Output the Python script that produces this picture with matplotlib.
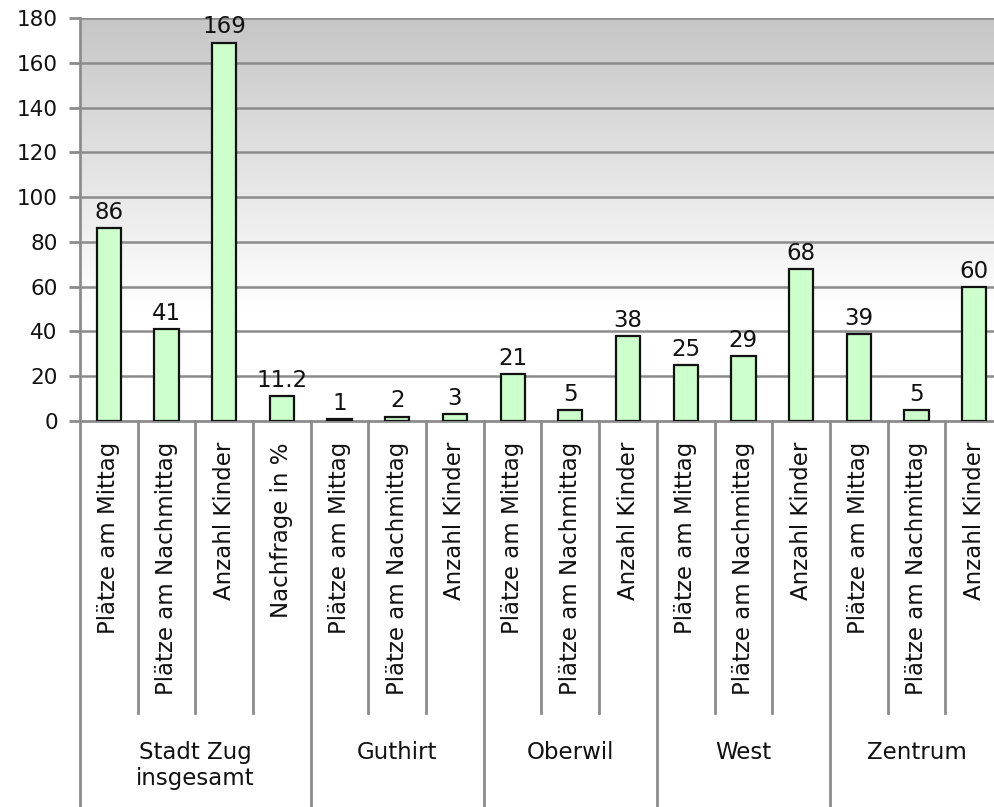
import numpy as np
import matplotlib
matplotlib.use("Agg")
import matplotlib.pyplot as plt
from matplotlib.colors import LinearSegmentedColormap

plt.rcParams['font.family'] = ['DejaVu Sans']

groups = ["Stadt Zug\ninsgesamt", "Guthirt", "Oberwil", "West", "Zentrum"]
group_items = [
    ["Plätze am Mittag", "Plätze am Nachmittag", "Anzahl Kinder", "Nachfrage in %"],
    ["Plätze am Mittag", "Plätze am Nachmittag", "Anzahl Kinder"],
    ["Plätze am Mittag", "Plätze am Nachmittag", "Anzahl Kinder"],
    ["Plätze am Mittag", "Plätze am Nachmittag", "Anzahl Kinder"],
    ["Plätze am Mittag", "Plätze am Nachmittag", "Anzahl Kinder"],
]
values = [86, 41, 169, 11.2,
          1, 2, 3,
          21, 5, 38,
          25, 29, 68,
          39, 5, 60]
value_labels = ["86", "41", "169", "11.2", "1", "2", "3", "21", "5", "38",
                "25", "29", "68", "39", "5", "60"]
yticks = [0, 20, 40, 60, 80, 100, 120, 140, 160, 180]

W, H = 995, 807
fig = plt.figure(figsize=(W / 100, H / 100), dpi=100)
x0, x1 = 80, 1003
ytop, ybot = 18, 421
ax = fig.add_axes([x0 / W, (H - ybot) / H, (x1 - x0) / W, (ybot - ytop) / H])

n = len(values)
xs = np.arange(n)
ax.set_xlim(-0.5, n - 0.5)
ax.set_ylim(0, 180)

# gradient background
grad = np.linspace(0, 1, 256).reshape(-1, 1)
cmap = LinearSegmentedColormap.from_list(
    "bg", [(0.0, "#ffffff"), (0.28, "#ffffff"), (1.0, "#c6c6c6")])
ax.imshow(grad, aspect="auto", cmap=cmap, origin="lower",
          extent=(-0.5, n - 0.5, 0, 180), zorder=0)

for y in yticks[1:]:
    ax.axhline(y, color="#8c8c8c", lw=1.8, zorder=1)

ax.bar(xs, values, width=0.42, color="#ccffcc", edgecolor="#111111",
       linewidth=1.6, zorder=3)
for x, v, lab in zip(xs, values, value_labels):
    ax.annotate(lab, (x, v), xytext=(0, 3), textcoords="offset points",
                ha="center", va="bottom", fontsize=16.5, color="#111111", zorder=4)

for s in ["top", "right"]:
    ax.spines[s].set_visible(False)
ax.spines["left"].set_color("#8c8c8c")
ax.spines["left"].set_linewidth(2)
ax.spines["bottom"].set_color("#8c8c8c")
ax.spines["bottom"].set_linewidth(2)
ax.spines["left"].set_zorder(5)

ax.set_yticks(yticks)
ax.tick_params(axis="y", length=8, width=2, color="#8c8c8c", labelsize=15.5,
               pad=8, labelcolor="#111111")
ax.set_xticks([])

trans = ax.get_xaxis_transform()
hpx = ybot - ytop
def fy(py):
    return -(py - ybot) / hpx

# left axis extension down
ax.plot([-0.5, -0.5], [0, fy(H + 5)], transform=trans, color="#8c8c8c",
        lw=2, clip_on=False, zorder=5)

# labels and separators
idx = 0
for g, items in zip(groups, group_items):
    start = idx
    for it in items:
        ax.text(idx, fy(442), it, transform=trans, rotation=90, ha="center",
                va="top", fontsize=16.5, color="#111111")
        idx += 1
    end = idx
    for k in range(start + 1, end):
        ax.plot([k - 0.5, k - 0.5], [0, fy(713)], transform=trans,
                color="#8c8c8c", lw=2, clip_on=False)
    ax.plot([end - 0.5, end - 0.5], [0, fy(H + 5)], transform=trans,
            color="#8c8c8c", lw=2, clip_on=False)
    ax.text((start + end - 1) / 2, fy(741), g, transform=trans, ha="center",
            va="top", fontsize=16.5, color="#111111", linespacing=1.15)

fig.savefig("out.png", dpi=100)
